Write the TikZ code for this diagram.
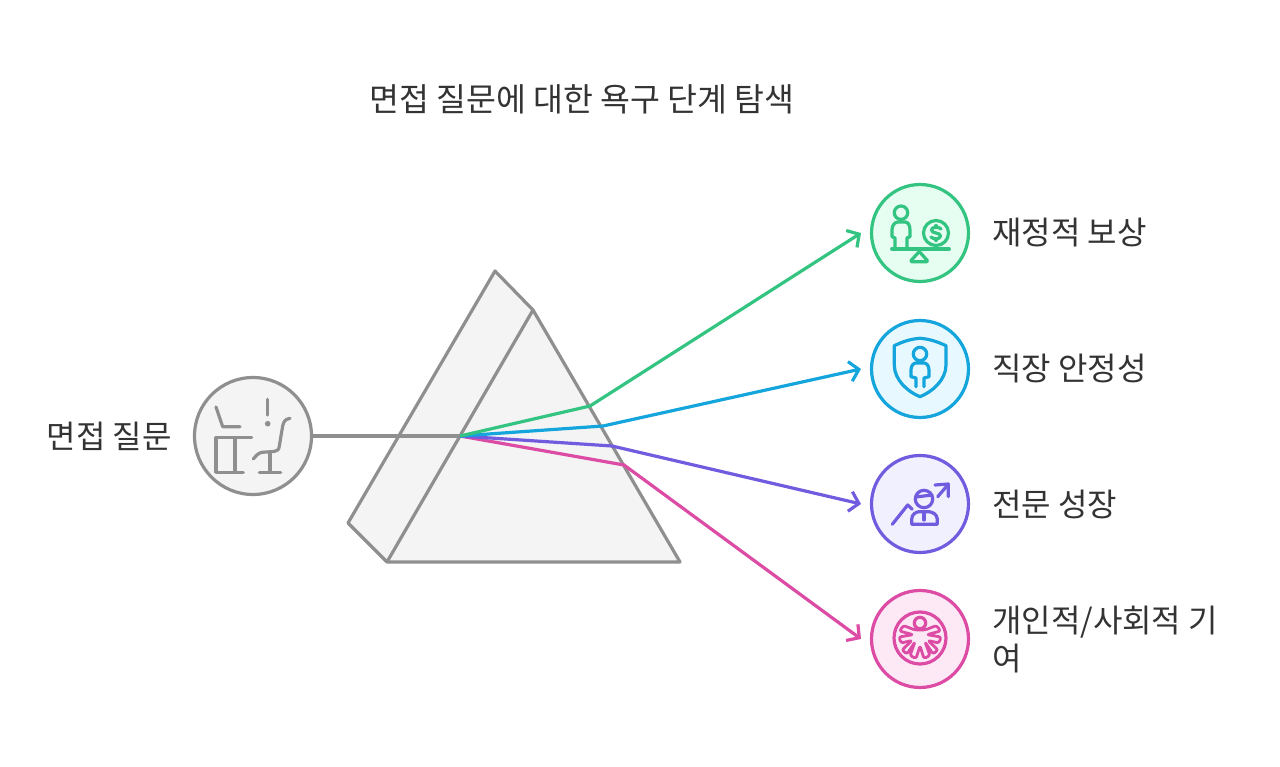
\documentclass[tikz,border=0pt]{standalone}
\usepackage{fontspec}
\setmainfont{Noto Sans CJK KR}
\usetikzlibrary{arrows.meta}
\definecolor{grayline}{HTML}{8F8F8F}
\definecolor{grayfill}{HTML}{F4F4F4}
\definecolor{greenline}{HTML}{34C481}
\definecolor{greenfill}{HTML}{E6FDF1}
\definecolor{blueline}{HTML}{14A5DC}
\definecolor{bluefill}{HTML}{E8F8FF}
\definecolor{purpleline}{HTML}{715CE0}
\definecolor{purplefill}{HTML}{F1F0FE}
\definecolor{pinkline}{HTML}{DC4CA4}
\definecolor{pinkfill}{HTML}{FDE9F6}
\definecolor{textcol}{HTML}{333333}
\tikzset{
	label text/.style={font=\fontsize{32}{38}\selectfont, text=textcol, inner sep=0pt},
	badge/.style={circle, line width=3.2pt, minimum size=97pt, inner sep=0pt, outer sep=0pt},
	ray/.style={line width=3.2pt, line join=round, -{Straight Barb[length=9pt,width=20pt]}},
	icon/.style={line width=3.2pt, line cap=round, line join=round}
}
\begin{document}
\begin{tikzpicture}[x=1pt,y=-1pt]
\useasboundingbox (0,0) rectangle (1280,767);
\node[label text, font=\fontsize{32.5}{38}\selectfont] (title) at (582,99) {면접 질문에 대한 욕구 단계 탐색};
% prism
\draw[grayline, fill=grayfill, line width=3.2pt, line join=round] (495,271) -- (533,310) -- (680,562) -- (387,562) -- (348,523) -- cycle;
\draw[grayline, line width=3.2pt] (533,310) -- (387,562);
% input
\node[badge, draw=grayline, fill=grayfill, minimum size=117pt] (question) at (253,436) {};
\node[label text, anchor=east] (questionlabel) at (172,436) {면접 질문};
\coordinate (split) at (460,436);
\draw[grayline, line width=3.2pt] (question) -- (split);
% outputs
\foreach \nm/\y/\lin/\fil in {reward/233/greenline/greenfill, safety/369/blueline/bluefill, growth/504/purpleline/purplefill, giving/639/pinkline/pinkfill}
{
	\node[badge, draw=\lin, fill=\fil] (\nm) at (920,\y) {};
	\coordinate (\nm tip) at (861,\y);
}
\coordinate (rewardbend) at (590,406);
\coordinate (safetybend) at (603,426);
\coordinate (growthbend) at (612,446);
\coordinate (givingbend) at (624,465);
\foreach \nm/\lin in {giving/pinkline, growth/purpleline, safety/blueline, reward/greenline}
{
	\draw[ray, \lin] (split) -- (\nm bend) -- (\nm tip);
}
\node[label text, anchor=west] (rewardlabel) at (992,233) {재정적 보상};
\node[label text, anchor=west] (safetylabel) at (992,369) {직장 안정성};
\node[label text, anchor=west] (growthlabel) at (992,504) {전문 성장};
\node[label text, anchor=west, align=left] (givinglabel) at (992,640) {개인적/사회적 기\\여};
% desk icon
\begin{scope}[icon, grayline]
\draw (216,407) -- (222.7,426.7) -- (240,426.7);
\draw (216,437.7) -- (251.7,437.7);
\draw (216,437.7) -- (216,472.3) -- (243.3,472.3);
\draw (235,437.7) -- (235,472.3);
\draw (267.7,399.3) -- (267.7,415);
\fill (267.7,423.7) circle (2.8pt);
\draw (290,418.3) .. controls (284,419) and (283,423) .. (282,430) -- (279.3,446) .. controls (279,450) and (277,451) .. (274,451.5) -- (262,452.3) .. controls (258,453) and (256,456) .. (253.3,459);
\draw (270,452.3) -- (270,472.3);
\draw (259.3,472.3) -- (280.7,472.3);
\end{scope}
% money icon
\begin{scope}[icon, greenline]
\draw (901,212.7) circle (6.7pt);
\draw (895,248) -- (895,238) -- (892,236.7) -- (892,230) .. controls (892,225) and (895,222) .. (898,222) -- (905,222) .. controls (908,222) and (910,225) .. (910,230) -- (910,236.7) -- (907,238) -- (907,248);
\draw (891.7,249) -- (949.3,249);
\draw[rounded corners=1.5pt] (919.3,251.5) -- (910,261.7) -- (928.3,261.7) -- cycle;
\draw (936,233) circle (12.5pt);
\draw (941,229) .. controls (939,226.5) and (931.5,226.5) .. (931.5,230) .. controls (931.5,234) and (940.5,232) .. (940.5,236) .. controls (940.5,239.5) and (933,239.5) .. (931,237);
\draw (936,225.5) -- (936,227);
\draw (936,239) -- (936,240.5);
\end{scope}
% shield icon
\begin{scope}[icon, blueline]
\draw (920,338.3) .. controls (910,339) and (902,342) .. (894.3,345.7) -- (894.3,365) .. controls (894.3,380) and (908,392) .. (920,396.7) .. controls (932,392) and (946,380) .. (946,365) -- (946,345.7) .. controls (938,342) and (930,339) .. (920,338.3) -- cycle;
\draw (920,354) circle (6.7pt);
\draw (916,386.7) -- (916,378) -- (911,376.7) -- (911,370) .. controls (911,365) and (914,363) .. (916,363) -- (924,363) .. controls (926,363) and (929,365) .. (929,370) -- (929,376.7) -- (924,378) -- (924,386.7);
\end{scope}
% growth icon
\begin{scope}[icon, purpleline]
\draw (892.3,524.3) -- (907.7,505) -- (912.3,509.3);
\draw (924,499) circle (8.7pt);
\draw (916,497) -- (932,495);
\draw (911.7,524.3) -- (911.7,519) .. controls (912,514) and (916,512) .. (919,511.7) -- (929,511.7) .. controls (932,512) and (937,514) .. (937.3,519) -- (937.3,524.3) -- cycle;
\draw (924,513.3) -- (924,520);
\draw (937.7,496.7) -- (948.3,484.3);
\draw (935,485) -- (948.3,484) -- (948.3,496.7);
\end{scope}
% figure icon
\begin{scope}[icon, pinkline, shift={(920,638)}]
\draw (0,0) circle (26pt);
\draw (0,-15) circle (5.7pt);
\draw[line width=2.8pt, rounded corners=2.2pt] (0,8) -- (4,20.5) -- (10,17.5) -- (5,4) -- (13,16) -- (18,12) -- (8,2.5) -- (19,5) -- (21,-1) -- (7,-3.3) -- (20.5,-7) -- (16.5,-12.5) -- (5,-8) -- (-5,-8) -- (-16.5,-12.5) -- (-20.5,-7) -- (-7,-3.3) -- (-21,-1) -- (-19,5) -- (-8,2.5) -- (-18,12) -- (-13,16) -- (-5,4) -- (-10,17.5) -- (-4,20.5) -- cycle;
\end{scope}
\end{tikzpicture}
\end{document}
